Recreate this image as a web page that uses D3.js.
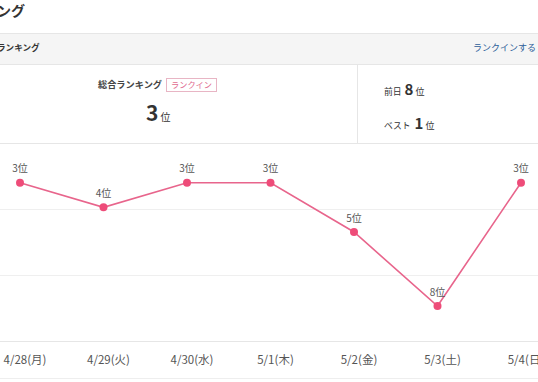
<!DOCTYPE html>
<html><head><meta charset="utf-8">
<script src="https://cdn.jsdelivr.net/npm/d3@7"></script>
<style>
html,body{margin:0;padding:0;background:#fff;overflow:hidden}
svg{display:block;font-family:"Noto Sans CJK JP","Noto Sans",sans-serif}
</style></head><body>
<svg id="c" width="538" height="382"></svg>
<script>
const dates = ["4/28(月)","4/29(火)","4/30(水)","5/1(木)","5/2(金)","5/3(土)","5/4(日)"];
const ranks = [3,4,3,3,5,8,3];
const rankSuffix = "位";
const currentRank = 3, prevRank = 8, bestRank = 1;

(function(){
const svg = d3.select("#c");
const W = 538;

// header
svg.append("text").attr("x",-3).attr("y",16).attr("font-size",14).attr("font-weight","bold").attr("fill","#333").text("ング");
svg.append("rect").attr("x",0).attr("y",33).attr("width",W).attr("height",31).attr("fill","#f5f5f5");
svg.append("line").attr("x1",0).attr("x2",W).attr("y1",33.5).attr("y2",33.5).attr("stroke","#e6e6e6");
svg.append("line").attr("x1",0).attr("x2",W).attr("y1",64.5).attr("y2",64.5).attr("stroke","#e6e6e6");
svg.append("text").attr("x",-3).attr("y",51).attr("font-size",8.6).attr("font-weight","bold").attr("fill","#333").text("ランキング");
svg.append("text").attr("x",473).attr("y",51).attr("font-size",9).attr("fill","#2c5d99").text("ランクインする");

// summary box
svg.append("line").attr("x1",357.5).attr("x2",357.5).attr("y1",64).attr("y2",143).attr("stroke","#e6e6e6");
svg.append("text").attr("x",98).attr("y",88).attr("font-size",9.2).attr("font-weight","bold").attr("fill","#444").text("総合ランキング");
svg.append("rect").attr("x",166.5).attr("y",78.5).attr("width",50).attr("height",13).attr("fill","#fff").attr("stroke","#e8b5c4");
svg.append("text").attr("x",191.5).attr("y",88.3).attr("text-anchor","middle").attr("font-size",8.2).attr("fill","#e16b8f").text("ランクイン");
const big = svg.append("text").attr("x",146).attr("y",121).attr("fill","#333");
big.append("tspan").attr("font-size",21).attr("font-weight","bold").text(currentRank);
big.append("tspan").attr("dx",2).attr("font-size",10).text(rankSuffix);

const prev = svg.append("text").attr("x",384).attr("y",95).attr("fill","#333");
prev.append("tspan").attr("font-size",8.8).text("前日");
prev.append("tspan").attr("dx",3).attr("font-size",15).attr("font-weight","bold").text(prevRank);
prev.append("tspan").attr("dx",2).attr("font-size",9).text(rankSuffix);
const best = svg.append("text").attr("x",384).attr("y",129).attr("fill","#333");
best.append("tspan").attr("font-size",8.8).text("ベスト");
best.append("tspan").attr("dx",4).attr("font-size",15).attr("font-weight","bold").text(bestRank);
best.append("tspan").attr("dx",2).attr("font-size",9).text(rankSuffix);

// chart
const x = d3.scalePoint().domain(dates).range([20, 521]);
const y = d3.scaleLinear().domain([3, 8]).range([182.7, 306]);
const gTop = 143, gBottom = 340.5;
const grid = d3.range(4).map(i => gTop + i*(gBottom-gTop)/3);
svg.selectAll(".grid").data(grid).join("line")
  .attr("x1",0).attr("x2",W).attr("y1",d=>Math.round(d)+0.5).attr("y2",d=>Math.round(d)+0.5)
  .attr("stroke",(d,i)=> i===0||i===3 ? "#e6e6e6" : "#efefef");
svg.append("line").attr("x1",0).attr("x2",W).attr("y1",378.5).attr("y2",378.5).attr("stroke","#eeeeee");

const line = d3.line().x((d,i)=>x(dates[i])).y(d=>y(d));
svg.append("path").datum(ranks).attr("d",line).attr("fill","none").attr("stroke","#e8658c").attr("stroke-width",1.6);
svg.selectAll(".pt").data(ranks).join("circle")
  .attr("cx",(d,i)=>x(dates[i])).attr("cy",d=>y(d)).attr("r",4).attr("fill","#ee4c79");
svg.selectAll(".lbl").data(ranks).join("text")
  .attr("x",(d,i)=>x(dates[i])).attr("y",d=>y(d)-10.5).attr("text-anchor","middle")
  .attr("font-size",10).attr("fill","#555").text(d=>d+rankSuffix);
svg.selectAll(".xl").data(dates).join("text")
  .attr("x",d=>x(d)+5).attr("y",364).attr("text-anchor","middle")
  .attr("font-size",11.5).attr("fill","#555").text(d=>d);
})();
</script></body></html>
